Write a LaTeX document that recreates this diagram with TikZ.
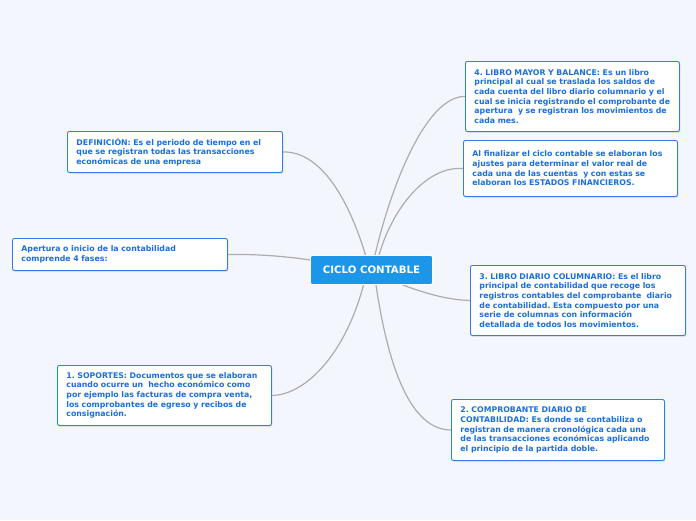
\documentclass[tikz,border=0pt]{standalone}
\usepackage{fontspec}
\setmainfont{DejaVu Sans}
\usetikzlibrary{shadows}
\definecolor{pagebg}{HTML}{F3F6FD}
\definecolor{hubfill}{HTML}{1C96E8}
\definecolor{boxborder}{HTML}{2F7FE6}
\definecolor{boxtext}{HTML}{1A6FDC}
\definecolor{connc}{HTML}{ADADAD}
\frenchspacing
\begin{document}
\begin{tikzpicture}[x=1pt,y=-1pt,
  infobox/.style={draw=boxborder, line width=0.9pt, fill=white, rounded corners=2pt,
    anchor=north west, inner xsep=9pt, inner ysep=0pt, align=left,
    text=boxtext, font=\bfseries\fontsize{7.8}{9.7}\selectfont,
    drop shadow={shadow xshift=0.8pt, shadow yshift=-1.2pt, opacity=0.25, fill=black!60}},
  hubbox/.style={fill=hubfill, draw=white, line width=0.8pt, rounded corners=2pt,
    text=white, font=\bfseries\fontsize{10.2}{12}\selectfont,
    minimum width=122pt, minimum height=29pt, inner sep=0pt},
  conn/.style={draw=connc, line width=1.2pt}]
\fill[pagebg] (0,0) rectangle (696,520);
\useasboundingbox (0,0) rectangle (696,520);

\coordinate (hubc) at (371.5,270);
\node[hubbox] (hub) at (hubc) {CICLO CONTABLE};

\node[infobox, text width=196pt, minimum width=214pt, minimum height=70pt] (mayor) at (465,61)
 {4. LIBRO MAYOR Y BALANCE: Es un libro\\principal al cual se traslada los saldos de\\cada cuenta del libro diario columnario y el\\cual se inicia registrando el comprobante de\\apertura\ \ y se registran los movimientos de\\cada mes.};
\node[infobox, text width=196pt, minimum width=214pt, minimum height=56pt] (fin) at (463,140)
 {Al finalizar el ciclo contable se elaboran los\\ajustes para determinar el valor real de\\cada una de las cuentas\ \ y con estas se\\elaboran los ESTADOS FINANCIEROS.};
\node[infobox, text width=197pt, minimum width=215pt, minimum height=70pt] (diario) at (470,265)
 {3. LIBRO DIARIO COLUMNARIO: Es el libro\\principal de contabilidad que recoge los\\registros contables del comprobante\ \ diario\\de contabilidad. Esta compuesto por una\\serie de columnas con información\\detallada de todos los movimientos.};
\node[infobox, text width=195pt, minimum width=213pt, minimum height=61pt] (compro) at (451,399)
 {2. COMPROBANTE DIARIO DE\\CONTABILIDAD: Es donde se contabiliza o\\registran de manera cronológica cada una\\de las transacciones económicas aplicando\\el principio de la partida doble.};
\node[infobox, text width=197pt, minimum width=215pt, minimum height=41pt] (def) at (67,131)
 {DEFINICIÓN: Es el periodo de tiempo en el\\que se registran todas las transacciones\\económicas de una empresa};
\node[infobox, text width=197pt, minimum width=215pt, minimum height=32pt] (aper) at (12,238)
 {Apertura o inicio de la contabilidad\\comprende 4 fases:};
\node[infobox, text width=196pt, minimum width=214pt, minimum height=60pt] (sop) at (57,365)
 {1. SOPORTES: Documentos que se elaboran\\cuando ocurre un\ \ hecho económico como\\por ejemplo las facturas de compra venta,\\los comprobantes de egreso y recibos de\\consignación.};

% connectors
\draw[conn] (def.east) .. controls (325,151) and (352,210) .. ([xshift=-6pt]hub.north);
\draw[conn] (mayor.west) .. controls (425,96) and (390,190) .. ([xshift=3.5pt]hub.north);
\draw[conn] (fin.west) .. controls (425,166) and (392,210) .. ([xshift=7.5pt]hub.north);
\draw[conn] (aper.east) .. controls (262,254) and (290,257) .. ([yshift=10pt]hub.west);
\draw[conn] ([xshift=-8pt]hub.south) .. controls (345,355) and (305,395) .. (sop.east);
\draw[conn] ([xshift=31pt]hub.south) .. controls (430,295) and (450,300) .. (diario.west);
\draw[conn] ([xshift=4.5pt]hub.south) .. controls (390,380) and (415,430) .. (compro.west);

% hub redrawn on top of connector ends
\node[hubbox] at (hubc) {CICLO CONTABLE};
\end{tikzpicture}
\end{document}
